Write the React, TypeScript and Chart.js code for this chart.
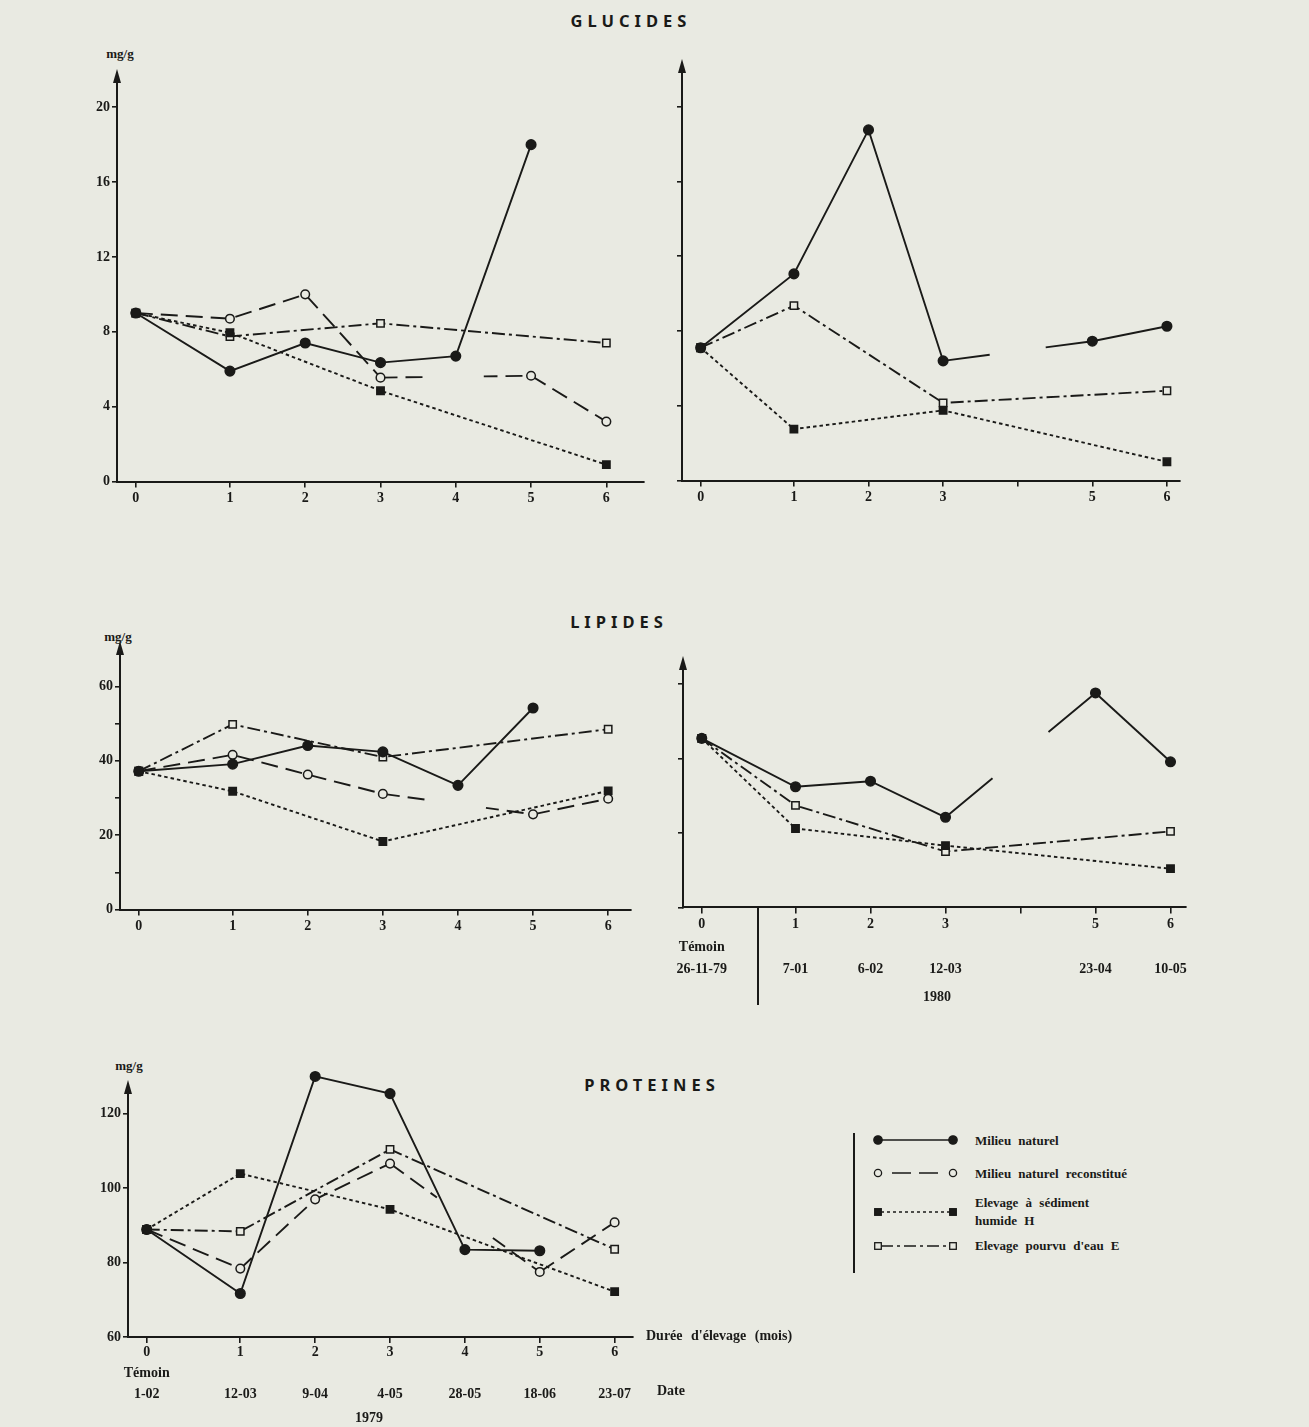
import { useEffect, useRef } from 'react';
import { Chart, registerables } from 'chart.js';

Chart.register(...registerables);

const INK = '#1a1a18';
const PAPER = '#e9eae2';
const SERIF = '"Liberation Serif", "Times New Roman", serif';
const SANS = '"Noto Sans", "DejaVu Sans", sans-serif';

// Durée d'élevage (mois)
const MONTHS = [0, 1, 2, 3, 4, 5, 6];
const MONTH_LABELS_1979 = ['0', '1', '2', '3', '4', '5', '6'];
const MONTH_LABELS_1980 = ['0', '1', '2', '3', '', '5', '6'];
const DATES_1979 = ['1-02', '12-03', '9-04', '4-05', '28-05', '18-06', '23-07'];
const DATES_1980 = ['26-11-79', '7-01', '6-02', '12-03', '', '23-04', '10-05'];

// GLUCIDES (mg/g)
const GLU_NAT_79 = [9.0, 5.9, 7.4, 6.35, 6.7, 18.0, null];
const GLU_REC_79 = [9.0, 8.7, 10.0, 5.55, null, 5.65, 3.2];
const GLU_HUM_79 = [9.0, 7.95, null, 4.85, null, null, 0.9];
const GLU_EAU_79 = [9.0, 7.75, null, 8.45, null, null, 7.4];
const GLU_NAT_80 = [7.1, 11.05, 18.75, 6.4, null, 7.45, 8.25];
const GLU_HUM_80 = [7.1, 2.75, null, 3.75, null, null, 1.0];
const GLU_EAU_80 = [7.1, 9.35, null, 4.15, null, null, 4.8];

// LIPIDES (mg/g)
const LIP_NAT_79 = [37.2, 39.1, 44.1, 42.4, 33.4, 54.2, null];
const LIP_REC_79 = [37.2, 41.6, 36.3, 31.1, null, 25.6, 29.8];
const LIP_HUM_79 = [37.2, 31.8, null, 18.3, null, null, 31.9];
const LIP_EAU_79 = [37.2, 49.8, null, 41.0, null, null, 48.5];
const LIP_NAT_80 = [45.4, 32.4, 33.9, 24.2, null, 57.6, 39.1];
const LIP_HUM_80 = [45.4, 21.2, null, 16.6, null, null, 10.4];
const LIP_EAU_80 = [45.4, 27.4, null, 15.0, null, null, 20.4];

// PROTEINES (mg/g)
const PRO_NAT_79 = [88.9, 71.7, 130.0, 125.4, 83.5, 83.2, null];
const PRO_REC_79 = [88.9, 78.4, 97.0, 106.6, null, 77.5, 90.8];
const PRO_HUM_79 = [88.9, 103.9, null, 94.3, null, null, 72.2];
const PRO_EAU_79 = [88.9, 88.4, null, 110.4, null, null, 83.6];

type Key = 'nat' | 'rec' | 'hum' | 'eau';

const SERIES: Record<Key, any> = {
  nat: { label: 'Milieu naturel', dash: [], point: 'circle', radius: 4.8, filled: true, broken: true },
  rec: { label: 'Milieu naturel reconstitué', dash: [17, 8], point: 'circle', radius: 4.3, filled: false, broken: true },
  hum: { label: 'Elevage à sédiment humide H', dash: [3.5, 3], point: 'rect', radius: 5.2, filled: true, broken: false },
  eau: { label: "Elevage pourvu d'eau E", dash: [13, 4, 3, 4], point: 'rect', radius: 5.2, filled: false, broken: false },
};

// month 0 (témoin) sits a little closer to the axis origin
const monthPos = (m: number) => (m === 0 ? -0.25 : m);

const PAD_L = 60;
const PAD_R = 24;
const PAD_T = 24;
const GAP_HALF = 28;

// dash pattern for a segment spanning a missing month: the line is interrupted around it
function dashWithBreak(base: number[], L: number, g0: number, g1: number) {
  const ons: number[][] = [];
  if (!base.length) ons.push([0, L]);
  else {
    let p = 0;
    let i = 0;
    while (p < L) {
      const len = base[i % base.length];
      if (i % 2 === 0) ons.push([p, Math.min(L, p + len)]);
      p += len;
      i++;
    }
  }
  const cut: number[][] = [];
  for (const [a, b] of ons) {
    if (b <= g0 || a >= g1) cut.push([a, b]);
    else {
      if (a < g0) cut.push([a, g0]);
      if (b > g1) cut.push([g1, b]);
    }
  }
  const dash: number[] = [];
  let cursor = 0;
  cut.forEach(([a, b], k) => {
    if (k === 0) {
      if (a > 0) dash.push(0, a);
    } else dash.push(a - cursor);
    dash.push(b - a);
    cursor = b;
  });
  dash.push(L + 10);
  return dash.map((d) => Math.round(d * 100) / 100);
}

function breakDash(ctx: any, base: number[]) {
  const { p0, p1 } = ctx;
  if (!p0.skip && !p1.skip) return undefined;
  const missing = p1.skip ? ctx.p1DataIndex : ctx.p0DataIndex;
  const pts = ctx.chart.getDatasetMeta(ctx.datasetIndex).data;
  let a = missing - 1;
  while (a >= 0 && pts[a].skip) a--;
  let b = missing + 1;
  while (b < pts.length && pts[b].skip) b++;
  if (a < 0 || b >= pts.length) return undefined;
  const A = pts[a];
  const B = pts[b];
  const dx = B.x - A.x;
  const L = Math.hypot(dx, B.y - A.y);
  const cx = ctx.chart.scales.x.getPixelForValue(monthPos(MONTHS[missing]));
  const c = ((cx - A.x) / dx) * L;
  const half = (GAP_HALF / dx) * L;
  return dashWithBreak(base, L, c - half, c + half);
}

function makeDataset(key: Key, values: (number | null)[]) {
  const s = SERIES[key];
  return {
    label: s.label,
    data: MONTHS.map((m, i) => ({ x: monthPos(m), y: values[i] })),
    borderColor: INK,
    borderWidth: 1.9,
    borderDash: s.dash,
    pointStyle: s.point,
    pointRadius: s.radius,
    pointBorderWidth: 1.5,
    pointBackgroundColor: s.filled ? INK : PAPER,
    pointBorderColor: INK,
    spanGaps: true,
    clip: false,
    tension: 0,
    fill: false,
    segment: s.broken ? { borderDash: (ctx: any) => breakDash(ctx, s.dash) } : undefined,
  };
}

// vertical axis line ending in an arrow head at the given value
const arrowAxisPlugin = {
  id: 'arrowAxis',
  afterDraw(chart: any, _args: any, opts: any) {
    const { ctx, chartArea } = chart;
    const x = Math.round(chartArea.left);
    const yTop = chart.scales.y.getPixelForValue(opts.value);
    ctx.save();
    ctx.strokeStyle = INK;
    ctx.fillStyle = INK;
    ctx.lineWidth = 2;
    ctx.beginPath();
    ctx.moveTo(x, chartArea.bottom + 1);
    ctx.lineTo(x, yTop);
    ctx.stroke();
    ctx.beginPath();
    ctx.moveTo(x, yTop - 12);
    ctx.lineTo(x - 4, yTop + 2);
    ctx.lineTo(x + 4, yTop + 2);
    ctx.closePath();
    ctx.fill();
    ctx.restore();
  },
};

type Panel = {
  area: { left: number; top: number; width: number; height: number };
  xMax: number;
  yMin: number;
  yMax: number;
  arrowAt: number;
  yStep: number;
  yLabelEvery: number | null;
  xLabels: (string | string[])[];
  lineHeight: string;
  tickPad: number;
  padB: number;
  datasets: any[];
};

const GLU_1979: Panel = {
  area: { left: 117, top: 81, width: 527, height: 400.5 },
  xMax: 6.5, yMin: 0, yMax: 21.4, arrowAt: 21.4, yStep: 4, yLabelEvery: 4,
  xLabels: MONTH_LABELS_1979, lineHeight: '16.8px', tickPad: 2, padB: 34,
  datasets: [
    makeDataset('nat', GLU_NAT_79), makeDataset('rec', GLU_REC_79),
    makeDataset('hum', GLU_HUM_79), makeDataset('eau', GLU_EAU_79),
  ],
};

const GLU_1980: Panel = {
  area: { left: 682.4, top: 71.2, width: 497.6, height: 409.5 },
  xMax: 6.17, yMin: 0, yMax: 21.9, arrowAt: 21.9, yStep: 4, yLabelEvery: null,
  xLabels: MONTH_LABELS_1980, lineHeight: '16.8px', tickPad: 2, padB: 34,
  datasets: [makeDataset('nat', GLU_NAT_80), makeDataset('hum', GLU_HUM_80), makeDataset('eau', GLU_EAU_80)],
};

const LIP_1979: Panel = {
  area: { left: 120, top: 652.5, width: 510.7, height: 256.5 },
  xMax: 6.3, yMin: 0, yMax: 69, arrowAt: 69, yStep: 10, yLabelEvery: 20,
  xLabels: MONTH_LABELS_1979, lineHeight: '16.8px', tickPad: 2, padB: 34,
  datasets: [
    makeDataset('nat', LIP_NAT_79), makeDataset('rec', LIP_REC_79),
    makeDataset('hum', LIP_HUM_79), makeDataset('eau', LIP_EAU_79),
  ],
};

const LIP_1980: Panel = {
  area: { left: 682.5, top: 668.3, width: 502.5, height: 239.4 },
  xMax: 6.2, yMin: 0, yMax: 64.3, arrowAt: 64.3, yStep: 20, yLabelEvery: null,
  xLabels: MONTHS.map((m, i) => [MONTH_LABELS_1980[i], i === 0 ? 'Témoin' : '', DATES_1980[i]]),
  lineHeight: '22.5px', tickPad: 0, padB: 80,
  datasets: [makeDataset('nat', LIP_NAT_80), makeDataset('hum', LIP_HUM_80), makeDataset('eau', LIP_EAU_80)],
};

const PRO_1979: Panel = {
  area: { left: 128.4, top: 1068.6, width: 504.6, height: 268.1 },
  xMax: 6.24, yMin: 60, yMax: 132, arrowAt: 125.8, yStep: 20, yLabelEvery: 20,
  xLabels: MONTHS.map((m, i) => [MONTH_LABELS_1979[i], i === 0 ? 'Témoin' : '', DATES_1979[i]]),
  lineHeight: '21px', tickPad: -1, padB: 80,
  datasets: [
    makeDataset('nat', PRO_NAT_79), makeDataset('rec', PRO_REC_79),
    makeDataset('hum', PRO_HUM_79), makeDataset('eau', PRO_EAU_79),
  ],
};

function ChartPanel({ spec }: { spec: Panel }) {
  const ref = useRef<HTMLCanvasElement | null>(null);
  const W = Math.round(spec.area.width + PAD_L + PAD_R);
  const H = Math.round(spec.area.height + PAD_T + spec.padB);

  useEffect(() => {
    if (!ref.current) return;
    const tickFont = { family: SERIF, size: 14, weight: 'bold' as const };
    const chart = new Chart(ref.current, {
      type: 'line',
      data: { datasets: spec.datasets },
      options: {
        responsive: false,
        maintainAspectRatio: false,
        animation: false,
        events: [],
        layout: { padding: { left: 0, right: W - PAD_L - spec.area.width, top: PAD_T, bottom: 0 } },
        plugins: {
          legend: { display: false },
          tooltip: { enabled: false },
          arrowAxis: { value: spec.arrowAt },
        },
        scales: {
          x: {
            type: 'linear',
            min: -0.5,
            max: spec.xMax,
            afterBuildTicks: (scale: any) => {
              scale.ticks = MONTHS.map((m) => ({ value: monthPos(m) }));
            },
            afterFit: (scale: any) => {
              scale.height = H - PAD_T - spec.area.height;
              scale.paddingLeft = 0;
              scale.paddingRight = 0;
            },
            ticks: {
              autoSkip: false,
              maxRotation: 0,
              minRotation: 0,
              padding: spec.tickPad,
              color: INK,
              font: { ...tickFont, lineHeight: spec.lineHeight },
              callback: (_v: any, index: number) => spec.xLabels[index],
            },
            grid: { display: true, drawOnChartArea: false, drawTicks: true, tickLength: 6, color: INK, lineWidth: 1.6 },
            border: { display: true, color: INK, width: 2 },
          },
          y: {
            type: 'linear',
            min: spec.yMin,
            max: spec.yMax,
            afterFit: (scale: any) => {
              scale.width = PAD_L;
              scale.paddingTop = 0;
              scale.paddingBottom = 0;
            },
            ticks: {
              stepSize: spec.yStep,
              includeBounds: false,
              padding: 2,
              color: INK,
              font: tickFont,
              callback: (v: any) =>
                spec.yLabelEvery !== null && Number(v) % spec.yLabelEvery === 0 ? String(v) : '',
            },
            grid: { display: true, drawOnChartArea: false, drawTicks: true, tickLength: 5, color: INK, lineWidth: 1.6 },
            border: { display: false },
          },
        },
      } as any,
      plugins: [arrowAxisPlugin],
    });
    return () => chart.destroy();
  }, [spec, W, H]);

  return (
    <canvas
      ref={ref}
      width={W}
      height={H}
      style={{
        position: 'absolute',
        left: spec.area.left - PAD_L,
        top: spec.area.top - PAD_T,
        width: W,
        height: H,
      }}
    />
  );
}

function Txt({ x, y, children, anchor = 'center', size = 14, family = SERIF, style = {} }: any) {
  const tx = anchor === 'center' ? '-50%' : anchor === 'right' ? '-100%' : '0';
  return (
    <div
      style={{
        position: 'absolute',
        left: x,
        top: y,
        transform: `translate(${tx}, -50%)`,
        whiteSpace: 'nowrap',
        fontFamily: family,
        fontWeight: 'bold',
        fontSize: size,
        lineHeight: 1,
        color: INK,
        ...style,
      }}
    >
      {children}
    </div>
  );
}

function Title({ x, y, text }: { x: number; y: number; text: string }) {
  return (
    <Txt x={x} y={y} family={SANS} size={16.5} style={{ letterSpacing: '5px', fontWeight: 700 }}>
      {text}
    </Txt>
  );
}

function LegendSymbol({ kind, y }: { kind: Key; y: number }) {
  const s = SERIES[kind];
  const x0 = 8;
  const x1 = 83;
  const marker = (cx: number) =>
    s.point === 'circle' ? (
      <circle cx={cx} cy={7} r={s.filled ? 4.2 : 3.6} fill={s.filled ? INK : PAPER} stroke={INK} strokeWidth={1.3} />
    ) : (
      <rect x={cx - 3.3} y={3.7} width={6.6} height={6.6} fill={s.filled ? INK : PAPER} stroke={INK} strokeWidth={1.3} />
    );
  let line;
  if (kind === 'rec') line = <line x1={22} x2={68} y1={7} y2={7} stroke={INK} strokeWidth={1.7} strokeDasharray="19 8" />;
  else if (kind === 'nat') line = <line x1={x0} x2={x1} y1={7} y2={7} stroke={INK} strokeWidth={1.7} />;
  else if (kind === 'hum') line = <line x1={x0 + 3} x2={x1 - 3} y1={7} y2={7} stroke={INK} strokeWidth={1.7} strokeDasharray="3 3" />;
  else line = <line x1={x0 + 3} x2={x1 - 3} y1={7} y2={7} stroke={INK} strokeWidth={1.7} strokeDasharray="12 4 3 4" />;
  return (
    <svg width={92} height={14} style={{ position: 'absolute', left: 870, top: y - 7 }}>
      {line}
      {marker(x0)}
      {marker(x1)}
    </svg>
  );
}

export default function App() {
  const legendText = { wordSpacing: '4px' };
  return (
    <div
      style={{
        position: 'absolute',
        left: 0,
        top: 0,
        width: 1309,
        height: 1427,
        background: PAPER,
        overflow: 'hidden',
      }}
    >
      <Title x={631} y={21} text="GLUCIDES" />
      <Title x={619} y={622} text="LIPIDES" />
      <Title x={652} y={1085} text="PROTEINES" />

      <Txt x={120} y={53} size={13}>mg/g</Txt>
      <Txt x={118} y={636} size={13}>mg/g</Txt>
      <Txt x={129} y={1065} size={13}>mg/g</Txt>

      <ChartPanel spec={GLU_1979} />
      <ChartPanel spec={GLU_1980} />
      <ChartPanel spec={LIP_1979} />
      <ChartPanel spec={LIP_1980} />
      <ChartPanel spec={PRO_1979} />

      {/* separation between the 1979 témoin and the 1980 dates */}
      <div style={{ position: 'absolute', left: 757, top: 907, width: 2, height: 98, background: INK }} />
      <Txt x={937} y={997} size={14}>1980</Txt>

      <Txt x={646} y={1336} anchor="left" size={14} style={{ wordSpacing: '5px' }}>Durée d'élevage (mois)</Txt>
      <Txt x={657} y={1391} anchor="left" size={14}>Date</Txt>
      <Txt x={369} y={1418} size={14}>1979</Txt>

      {/* légende */}
      <div style={{ position: 'absolute', left: 853, top: 1133, width: 2, height: 140, background: INK }} />
      <LegendSymbol kind="nat" y={1140} />
      <Txt x={975} y={1140} anchor="left" size={13} style={legendText}>Milieu naturel</Txt>
      <LegendSymbol kind="rec" y={1173} />
      <Txt x={975} y={1173} anchor="left" size={13} style={legendText}>Milieu naturel reconstitué</Txt>
      <LegendSymbol kind="hum" y={1212} />
      <Txt x={975} y={1202} anchor="left" size={13} style={legendText}>Elevage à sédiment</Txt>
      <Txt x={975} y={1220} anchor="left" size={13} style={legendText}>humide H</Txt>
      <LegendSymbol kind="eau" y={1246} />
      <Txt x={975} y={1245} anchor="left" size={13} style={legendText}>Elevage pourvu d'eau E</Txt>
    </div>
  );
}
